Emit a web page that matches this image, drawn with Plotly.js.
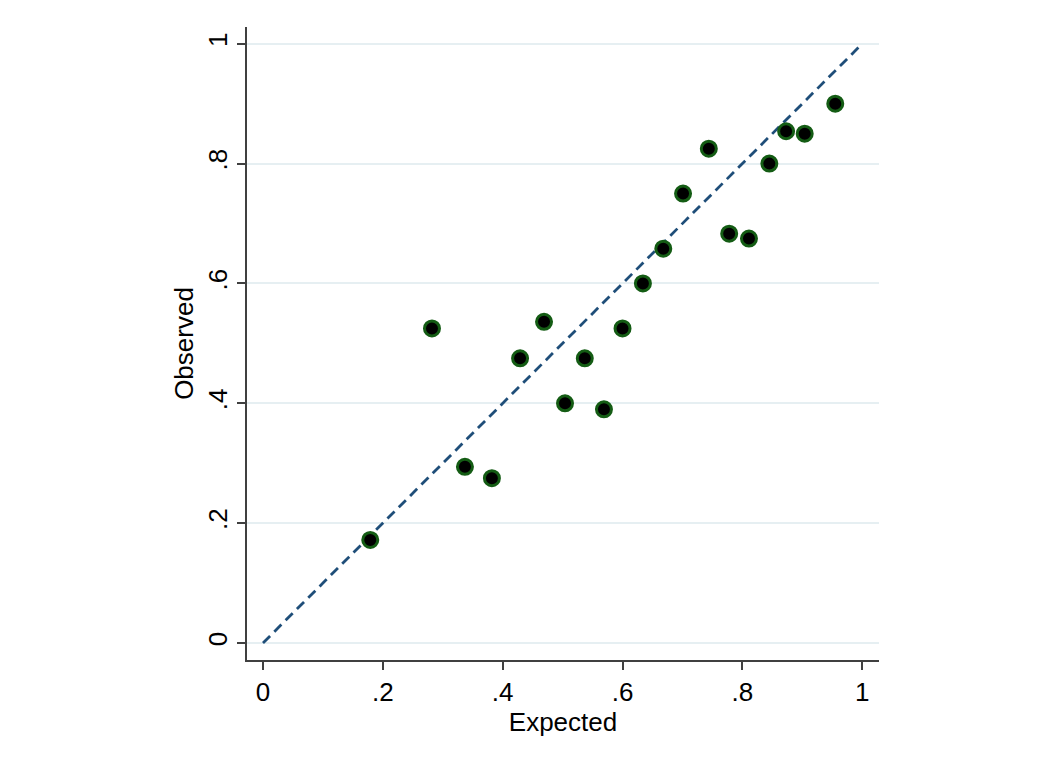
<!DOCTYPE html>
<html>
<head>
<meta charset="utf-8">
<script src="https://cdn.plot.ly/plotly-3.0.1.min.js"></script>
<style>html,body{margin:0;padding:0;background:#fff;}</style>
</head>
<body>
<div id="chart" style="width:1050px;height:764px;"></div>
<script>
var expected = [0.179, 0.282, 0.337, 0.382, 0.429, 0.469, 0.504, 0.537, 0.569, 0.600, 0.634, 0.668, 0.701, 0.744, 0.778, 0.811, 0.845, 0.873, 0.904, 0.955];
var observed = [0.172, 0.525, 0.294, 0.275, 0.475, 0.536, 0.400, 0.475, 0.390, 0.525, 0.600, 0.658, 0.750, 0.825, 0.683, 0.675, 0.800, 0.854, 0.850, 0.900];
var refX = [0, 1];
var refY = [0, 1];
var tickVals = [0, 0.2, 0.4, 0.6, 0.8, 1];
var tickText = ["0", ".2", ".4", ".6", ".8", "1"];

var traces = [
  {
    x: refX, y: refY, type: 'scatter', mode: 'lines',
    line: {color: '#1f4e79', width: 2.8, dash: '10px,6px'},
    hoverinfo: 'skip', showlegend: false
  },
  {
    x: expected, y: observed, type: 'scatter', mode: 'markers',
    marker: {color: '#000000', size: 15, line: {color: '#145c14', width: 3}},
    showlegend: false
  }
];

var fam = 'Liberation Sans, Arial, sans-serif';

var layout = {
  width: 1050, height: 764,
  margin: {l: 247, r: 171, t: 27, b: 104, pad: 0},
  paper_bgcolor: '#fff', plot_bgcolor: '#fff',
  font: {family: fam, color: '#000', size: 26},
  showlegend: false,
  xaxis: {
    range: [-0.0267, 1.028],
    tickvals: tickVals, ticktext: tickText,
    showgrid: false, zeroline: false,
    showline: true, linecolor: '#404040', linewidth: 2,
    ticks: 'outside', ticklen: 8, tickwidth: 2, tickcolor: '#404040',
    tickfont: {family: fam, size: 26, color: '#000'},
    title: {text: 'Expected', font: {family: fam, size: 26, color: '#000'}, standoff: 1}
  },
  yaxis: {
    range: [-0.0284, 1.028],
    tickvals: tickVals, ticktext: tickText,
    tickangle: -90,
    showgrid: true, gridcolor: '#e6eff2', gridwidth: 2,
    zeroline: false,
    showline: true, linecolor: '#404040', linewidth: 2,
    ticks: 'outside', ticklen: 8, tickwidth: 2, tickcolor: '#404040',
    tickfont: {family: fam, size: 26, color: '#000'},
    title: {text: 'Observed', font: {family: fam, size: 26, color: '#000'}, standoff: 1}
  }
};

Plotly.newPlot('chart', traces, layout, {staticPlot: true, displayModeBar: false});
</script>
</body>
</html>
